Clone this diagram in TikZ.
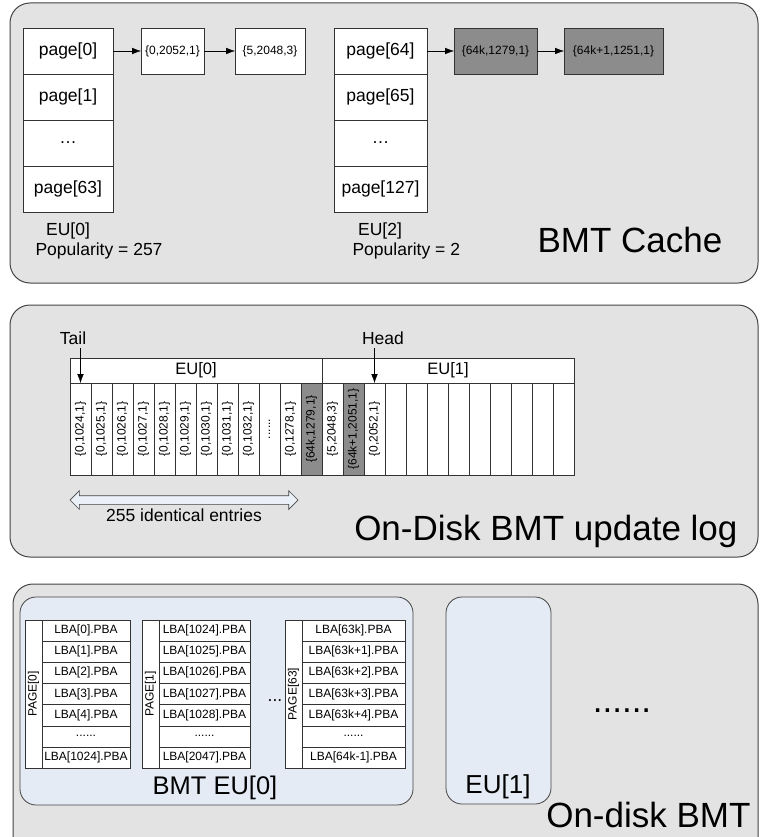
\documentclass[tikz,border=0pt]{standalone}
\usepackage{fontspec}
\setmainfont{Liberation Sans}
\usetikzlibrary{arrows,arrows.meta,shapes,positioning}
\definecolor{panelgray}{HTML}{E3E3E3}
\definecolor{cellgray}{HTML}{8C8C8C}
\definecolor{eublue}{HTML}{E5EBF5}
\definecolor{linegray}{HTML}{444444}
\definecolor{arrowfill}{HTML}{EAF0F8}
\newcommand{\sixdots}{......}

\begin{document}
\begin{tikzpicture}[x=1pt,y=-1pt,>={Latex[length=9pt,width=6.5pt]},auto,node distance=0pt]
\tikzstyle{panel}=[draw=linegray,fill=panelgray,line width=1pt,rounded corners=20pt]
\tikzstyle{eubox}=[draw=linegray,fill=eublue,line width=0.8pt,rounded corners=16pt]
\tikzstyle{pagebox}=[rectangle,draw=black!80,fill=white,minimum width=90pt,minimum height=46pt,inner sep=0pt,outer sep=0pt,font=\fontsize{17.5}{20}\selectfont]
\tikzstyle{entrybox}=[rectangle,draw=black!80,fill=white,minimum height=46pt,inner sep=0pt,outer sep=0pt,font=\fontsize{12}{14}\selectfont]
\tikzstyle{hotbox}=[entrybox,fill=cellgray]
\tikzstyle{txt}=[font=\fontsize{17.5}{20}\selectfont]
\tikzstyle{bigtxt}=[font=\fontsize{35}{40}\selectfont]
\tikzstyle{euhead}=[rectangle,draw=black!80,fill=white,minimum width=252pt,minimum height=25pt,inner sep=0pt,outer sep=0pt,font=\fontsize{16.5}{19}\selectfont]
\tikzstyle{logcell}=[rectangle,draw=black!80,rotate=90,minimum width=92pt,minimum height=21pt,inner sep=0pt,outer sep=0pt,font=\fontsize{12}{14}\selectfont]
\tikzstyle{lbacell}=[rectangle,draw=black!80,fill=white,minimum height=21.15pt,inner sep=0pt,outer sep=0pt,font=\fontsize{12}{14}\selectfont]
\tikzstyle{pagecol}=[rectangle,draw=black!80,fill=white,rotate=90,minimum width=148pt,minimum height=17pt,inner sep=0pt,outer sep=0pt,font=\fontsize{12}{14}\selectfont]
\clip (0,0) rectangle (760,837);

% BMT cache
\draw[panel] (10,3) rectangle (758,283);
\node[pagebox] (pg0) at (68,51) {page[0]};
\node[pagebox,below=of pg0] (pg1) {page[1]};
\node[pagebox,below=of pg1] (pg2) {…};
\node[pagebox,below=of pg2] (pg63) {page[63]};
\node[txt] (eu0name) at (68,231) {EU[0]};
\node[txt,anchor=west] (eu0pop) at (32,251) {Popularity = 257};
\node[entrybox,minimum width=63pt,right=28pt of pg0] (pc1) {\{0,2052,1\}};
\node[entrybox,minimum width=70pt,right=31pt of pc1] (pc2) {\{5,2048,3\}};
\draw[->] (pg0) -- (pc1);
\draw[->] (pc1) -- (pc2);

\node[pagebox,minimum width=93pt] (pg64) at (380.5,51) {page[64]};
\node[pagebox,minimum width=93pt,below=of pg64] (pg65) {page[65]};
\node[pagebox,minimum width=93pt,below=of pg65] (pg66) {…};
\node[pagebox,minimum width=93pt,below=of pg66] (pg127) {page[127]};
\node[txt] (eu2name) at (380,231) {EU[2]};
\node[txt,anchor=west] (eu2pop) at (349,251) {Popularity = 2};
\node[hotbox,minimum width=83pt,right=27pt of pg64] (pc3) {\{64k,1279,1\}};
\node[hotbox,minimum width=99pt,right=27pt of pc3] (pc4) {\{64k+1,1251,1\}};
\draw[->] (pg64) -- (pc3);
\draw[->] (pc3) -- (pc4);
\node[bigtxt,anchor=base] (cachetitle) at (630,252) {BMT Cache};

% update log
\draw[panel] (10,305) rectangle (758,557);
\node[euhead] (log0) at (196,370.5) {EU[0]};
\node[euhead,right=of log0] (log1) {EU[1]};
\foreach \txt/\clr [count=\i] in {{\{0,1024,1\}}/white,{\{0,1025,1\}}/white,{\{0,1026,1\}}/white,
  {\{0,1027,1\}}/white,{\{0,1028,1\}}/white,{\{0,1029,1\}}/white,{\{0,1030,1\}}/white,
  {\{0,1031,1\}}/white,{\{0,1032,1\}}/white,{\sixdots}/white,{\{0,1278,1\}}/white,
  {\{64k,1279,1\}}/cellgray,{\{5,2048,3\}}/white,{\{64k+1,2051,1\}}/cellgray,
  {\{0,2052,1\}}/white,{}/white,{}/white,{}/white,{}/white,{}/white,{}/white,
  {}/white,{}/white,{}/white}
  \node[logcell,fill=\clr] (le\i) at ({59.5+21*\i},429) {\txt};
\node[txt] (tail) at (73,338) {Tail};
\draw[->] (tail.south -| le1.center) -- (le1.center |- log0.south);
\node[txt] (head) at (383,338) {Head};
\draw[->] (head.south -| le15.center) -- (le15.center |- log1.south);
\node[double arrow,draw=linegray,fill=arrowfill,line width=0.7pt,minimum height=228pt,
  minimum width=17pt,inner sep=4pt,double arrow head extend=5pt] (span) at (184,500) {};
\node[txt,below=1pt of span] (spanlbl) {255 identical entries};
\node[bigtxt,anchor=base east] (logtitle) at (741,540) {On-Disk BMT update log};

% on-disk BMT
\draw[panel] (13,584) rectangle (758,870);
\draw[eubox] (20,597) rectangle (413,805);
\node[pagecol] (pga) at (33.5,694) {PAGE[0]};
\foreach \txt [count=\r] in {LBA[0].PBA,LBA[1].PBA,LBA[2].PBA,LBA[3].PBA,LBA[4].PBA,\sixdots,LBA[1024].PBA}
  \node[lbacell,minimum width=88pt] (la\r) at (86,{609.425+21.15*\r}) {\txt};
\node[pagecol] (pgb) at (150.5,694) {PAGE[1]};
\foreach \txt [count=\r] in {LBA[1024].PBA,LBA[1025].PBA,LBA[1026].PBA,LBA[1027].PBA,LBA[1028].PBA,\sixdots,LBA[2047].PBA}
  \node[lbacell,minimum width=91pt] (lb\r) at (204.5,{609.425+21.15*\r}) {\txt};
\node[pagecol] (pgc) at (293.5,694) {PAGE[63]};
\foreach \txt [count=\r] in {LBA[63k].PBA,LBA[63k+1].PBA,LBA[63k+2].PBA,LBA[63k+3].PBA,LBA[63k+4].PBA,\sixdots,LBA[64k-1].PBA}
  \node[lbacell,minimum width=103pt] (lc\r) at (353.5,{609.425+21.15*\r}) {\txt};
\node[txt] (tabdots) at (275,701) {...};
\node[font=\fontsize{25.5}{30}\selectfont] (eu0title) at (215,788) {BMT EU[0]};
\draw[eubox] (446,597) rectangle (551,804);
\node[font=\fontsize{26}{30}\selectfont] (eu1title) at (498,787) {EU[1]};
\node[bigtxt,anchor=base] (moredots) at (622,712) {\sixdots};
\node[bigtxt,anchor=base east] (disktitle) at (754,827) {On-disk BMT};
\end{tikzpicture}
\end{document}
